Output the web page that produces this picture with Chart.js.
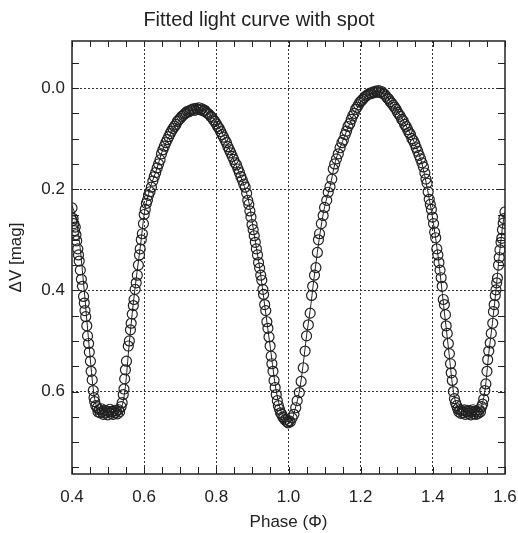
<!DOCTYPE html>
<html>
<head>
<meta charset="utf-8">
<script src="https://cdn.jsdelivr.net/npm/chart.js@4.4.1/dist/chart.umd.min.js"></script>
<style>
  body { margin: 0; background: #fff; }
  canvas { display: block; }
</style>
</head>
<body>
<canvas id="curvaLuz" width="518" height="533"></canvas>
<script>
// ticks
var xTicks = [0.4, 0.6, 0.8, 1.0, 1.2, 1.4, 1.6];
var yTicks = [0.0, 0.2, 0.4, 0.6];

// fitted model (spot)
var fitPhase = [0.400, 0.410, 0.420, 0.430, 0.440, 0.450, 0.458, 0.465, 0.475, 0.490, 0.510, 0.530, 0.540, 0.548, 0.558, 0.570, 0.580, 0.590, 0.600, 0.610,
  0.620, 0.635, 0.650, 0.670, 0.690, 0.710, 0.730, 0.750, 0.770, 0.790, 0.810, 0.830, 0.850, 0.870, 0.890, 0.905, 0.920, 0.935, 0.950, 0.965,
  0.980, 0.990, 1.000, 1.010, 1.020, 1.030, 1.040, 1.050, 1.060, 1.070, 1.080, 1.090, 1.100, 1.115, 1.130, 1.150, 1.170, 1.190, 1.210, 1.230,
  1.250, 1.270, 1.290, 1.310, 1.330, 1.350, 1.370, 1.385, 1.400, 1.415, 1.430, 1.445, 1.455, 1.465, 1.480, 1.500, 1.520, 1.535, 1.545, 1.555,
  1.565, 1.575, 1.585, 1.595, 1.600];
var fitMag = [0.232, 0.255, 0.300, 0.370, 0.450, 0.530, 0.590, 0.622, 0.634, 0.638, 0.640, 0.637, 0.625, 0.590, 0.510, 0.425, 0.365, 0.310, 0.250, 0.215,
  0.190, 0.160, 0.125, 0.095, 0.070, 0.055, 0.045, 0.042, 0.046, 0.058, 0.080, 0.110, 0.145, 0.180, 0.225, 0.290, 0.355, 0.435, 0.515, 0.595,
  0.640, 0.655, 0.660, 0.655, 0.630, 0.600, 0.550, 0.490, 0.440, 0.380, 0.325, 0.275, 0.235, 0.195, 0.145, 0.105, 0.070, 0.040, 0.020, 0.010,
  0.007, 0.015, 0.033, 0.055, 0.080, 0.110, 0.150, 0.200, 0.260, 0.335, 0.430, 0.525, 0.590, 0.625, 0.636, 0.640, 0.640, 0.628, 0.595, 0.525,
  0.465, 0.400, 0.325, 0.265, 0.245];

// observed points
var obsPhase = [
  0.400, 0.401, 0.403, 0.405, 0.407, 0.409, 0.411, 0.413, 0.416, 0.418, 0.420, 0.423, 0.426, 0.429, 0.432, 0.434, 0.436, 0.438, 0.441, 0.443,
  0.446, 0.448, 0.451, 0.453, 0.456, 0.459, 0.461, 0.463,
  0.466, 0.470, 0.472, 0.475, 0.478, 0.481, 0.484, 0.487, 0.490, 0.493, 0.496, 0.499, 0.502, 0.505, 0.508, 0.511, 0.514, 0.517, 0.520, 0.523,
  0.526, 0.529, 0.532, 0.536, 0.539,
  0.542, 0.544, 0.546, 0.548, 0.551, 0.556, 0.559, 0.562, 0.564, 0.567, 0.570, 0.572, 0.575, 0.578, 0.581, 0.584, 0.587, 0.589, 0.592, 0.595,
  0.598, 0.600, 0.603, 0.606, 0.609, 0.612, 0.616, 0.620,
  0.624, 0.628, 0.632, 0.636, 0.640, 0.644, 0.648, 0.652, 0.656, 0.660, 0.664, 0.668, 0.672, 0.676, 0.680, 0.684, 0.688, 0.692, 0.696, 0.700,
  0.704, 0.708, 0.712, 0.716, 0.720, 0.724, 0.728, 0.732, 0.736, 0.740, 0.744, 0.748, 0.752, 0.756, 0.760, 0.764, 0.768, 0.772, 0.776, 0.780,
  0.784, 0.788, 0.792, 0.796, 0.800, 0.804, 0.808, 0.812, 0.816, 0.820, 0.824, 0.828, 0.832, 0.836, 0.840, 0.844, 0.848, 0.852, 0.856, 0.860,
  0.864, 0.868, 0.872, 0.876, 0.880,
  0.884, 0.887, 0.890, 0.893, 0.896, 0.899, 0.902, 0.905, 0.908, 0.911, 0.914, 0.917, 0.920, 0.923, 0.926, 0.929, 0.931, 0.934, 0.937, 0.940,
  0.943, 0.946, 0.949, 0.952, 0.954, 0.957, 0.960, 0.963, 0.966, 0.969, 0.972, 0.975, 0.978, 0.981, 0.984, 0.987, 0.990, 0.993, 0.996, 0.999,
  1.002, 1.005,
  1.010, 1.015, 1.020, 1.024, 1.030, 1.035, 1.041, 1.046, 1.050, 1.055, 1.060, 1.064, 1.067, 1.072, 1.076, 1.080, 1.083, 1.086, 1.091, 1.096,
  1.100, 1.106, 1.110, 1.115, 1.120, 1.124, 1.128, 1.133, 1.138, 1.143, 1.148, 1.152, 1.157, 1.161, 1.165, 1.170, 1.174, 1.178, 1.182, 1.186,
  1.190, 1.194, 1.198, 1.202, 1.206, 1.210, 1.214, 1.218, 1.222, 1.226, 1.230, 1.234, 1.238, 1.242, 1.246, 1.250, 1.254, 1.258, 1.262, 1.266,
  1.270,
  1.274, 1.278, 1.282, 1.286, 1.290, 1.294, 1.298, 1.302, 1.306, 1.310, 1.314, 1.318, 1.322, 1.326, 1.330, 1.334, 1.338, 1.342, 1.346, 1.350,
  1.354, 1.358, 1.362, 1.366, 1.370, 1.374, 1.378, 1.381, 1.384, 1.387, 1.390, 1.393, 1.396, 1.399, 1.402, 1.405, 1.408, 1.411, 1.414, 1.417,
  1.420, 1.423, 1.426, 1.429, 1.432, 1.435, 1.437, 1.440, 1.443, 1.446, 1.449, 1.451, 1.454, 1.457, 1.460, 1.463,
  1.466, 1.469, 1.472, 1.475, 1.478, 1.481, 1.484, 1.487, 1.490, 1.493, 1.496, 1.499, 1.502, 1.505, 1.508, 1.511, 1.514, 1.517, 1.520, 1.523,
  1.526, 1.529, 1.532, 1.535, 1.538,
  1.541, 1.544, 1.547, 1.550, 1.552, 1.555, 1.559, 1.562, 1.566, 1.568, 1.570, 1.573, 1.575, 1.577, 1.579, 1.582, 1.584, 1.586, 1.589, 1.591,
  1.593, 1.595, 1.597, 1.600];
var obsMag = [
  0.237, 0.262, 0.258, 0.268, 0.282, 0.275, 0.290, 0.302, 0.318, 0.330, 0.342, 0.360, 0.378, 0.392, 0.412, 0.425, 0.440, 0.452, 0.470, 0.490,
  0.505, 0.522, 0.540, 0.560, 0.577, 0.598, 0.612, 0.620,
  0.628, 0.632, 0.640, 0.636, 0.642, 0.634, 0.640, 0.645, 0.637, 0.642, 0.638, 0.646, 0.640, 0.635, 0.643, 0.639, 0.645, 0.637, 0.642, 0.638,
  0.644, 0.636, 0.640, 0.630, 0.622,
  0.606, 0.595, 0.575, 0.557, 0.540, 0.510, 0.500, 0.478, 0.465, 0.447, 0.430, 0.418, 0.398, 0.385, 0.370, 0.350, 0.330, 0.318, 0.300, 0.288,
  0.268, 0.250, 0.240, 0.228, 0.222, 0.212, 0.205, 0.196,
  0.184, 0.175, 0.167, 0.158, 0.150, 0.142, 0.130, 0.122, 0.115, 0.108, 0.102, 0.096, 0.090, 0.085, 0.080, 0.076, 0.072, 0.066, 0.063, 0.060,
  0.056, 0.054, 0.051, 0.049, 0.046, 0.047, 0.044, 0.043, 0.041, 0.044, 0.040, 0.042, 0.039, 0.043, 0.041, 0.045, 0.044, 0.048, 0.050, 0.052,
  0.056, 0.058, 0.063, 0.066, 0.071, 0.076, 0.080, 0.086, 0.092, 0.097, 0.103, 0.108, 0.116, 0.122, 0.128, 0.135, 0.141, 0.148, 0.152, 0.160,
  0.167, 0.175, 0.182, 0.190, 0.196,
  0.208, 0.222, 0.230, 0.243, 0.255, 0.270, 0.280, 0.292, 0.305, 0.318, 0.330, 0.345, 0.356, 0.370, 0.380, 0.398, 0.408, 0.428, 0.440, 0.462,
  0.475, 0.492, 0.510, 0.530, 0.545, 0.560, 0.578, 0.592, 0.606, 0.618, 0.628, 0.635, 0.642, 0.645, 0.650, 0.652, 0.656, 0.655, 0.660, 0.662,
  0.658, 0.660,
  0.652, 0.645, 0.632, 0.618, 0.602, 0.580, 0.553, 0.520, 0.490, 0.468, 0.445, 0.410, 0.392, 0.370, 0.355, 0.325, 0.300, 0.288, 0.268, 0.252,
  0.236, 0.222, 0.206, 0.195, 0.180, 0.160, 0.150, 0.140, 0.130, 0.118, 0.108, 0.103, 0.092, 0.085, 0.076, 0.070, 0.062, 0.055, 0.050, 0.042,
  0.038, 0.033, 0.028, 0.025, 0.022, 0.019, 0.016, 0.014, 0.012, 0.010, 0.011, 0.008, 0.009, 0.006, 0.008, 0.005, 0.009, 0.007, 0.011, 0.012,
  0.016,
  0.020, 0.022, 0.027, 0.030, 0.034, 0.038, 0.042, 0.048, 0.052, 0.056, 0.062, 0.065, 0.072, 0.076, 0.082, 0.088, 0.092, 0.100, 0.104, 0.110,
  0.118, 0.125, 0.133, 0.140, 0.148, 0.156, 0.168, 0.180, 0.188, 0.205, 0.220, 0.230, 0.240, 0.255, 0.268, 0.285, 0.296, 0.318, 0.330, 0.345,
  0.360, 0.375, 0.392, 0.418, 0.428, 0.448, 0.470, 0.485, 0.505, 0.525, 0.545, 0.563, 0.578, 0.600, 0.614, 0.622,
  0.628, 0.634, 0.640, 0.636, 0.643, 0.638, 0.642, 0.636, 0.645, 0.640, 0.637, 0.643, 0.638, 0.646, 0.640, 0.636, 0.644, 0.639, 0.645, 0.640,
  0.643, 0.636, 0.640, 0.630, 0.625,
  0.615, 0.598, 0.585, 0.560, 0.537, 0.520, 0.504, 0.485, 0.465, 0.442, 0.428, 0.410, 0.399, 0.385, 0.376, 0.350, 0.335, 0.320, 0.305, 0.297,
  0.280, 0.267, 0.258, 0.245];

var tinta = '#222';
var fuente = "'Liberation Sans', 'DejaVu Sans', sans-serif";

// marco y marcas menores hacia dentro, como en IDL
var marcoPlugin = {
  id: 'marco',
  afterDraw: function(chart) {
    var c = chart.ctx, a = chart.chartArea;
    var sx = chart.scales.x, sy = chart.scales.y;
    c.save();
    c.strokeStyle = tinta;
    c.lineWidth = 1;
    c.beginPath();
    for (var v = 0.40; v <= 1.601; v += 0.05) {
      var px = Math.round(sx.getPixelForValue(v)) + 0.5;
      c.moveTo(px, a.top); c.lineTo(px, a.top + 6);
      c.moveTo(px, a.bottom); c.lineTo(px, a.bottom - 7);
    }
    for (var w = -0.05; w <= 0.751; w += 0.05) {
      var py = Math.round(sy.getPixelForValue(w)) + 0.5;
      c.moveTo(a.left, py); c.lineTo(a.left + 7, py);
      c.moveTo(a.right, py); c.lineTo(a.right - 7, py);
    }
    c.stroke();
    c.lineWidth = 1.5;
    c.strokeRect(a.left, a.top, a.right - a.left, a.bottom - a.top);
    c.restore();
  }
};

var puntos = obsPhase.map(function(p, i) { return {x: p, y: obsMag[i]}; });
var ajuste = fitPhase.map(function(p, i) { return {x: p, y: fitMag[i]}; });

var ctx = document.getElementById('curvaLuz').getContext('2d');
var grafico = new Chart(ctx, {
  type: 'scatter',
  data: {
    datasets: [{
      label: 'ajuste',
      data: ajuste,
      showLine: true,
      borderColor: tinta,
      borderWidth: 1,
      pointRadius: 0,
      cubicInterpolationMode: 'monotone',
      order: 2
    }, {
      label: 'observado',
      data: puntos,
      pointStyle: 'circle',
      pointRadius: 5,
      pointBorderWidth: 1.2,
      pointBorderColor: tinta,
      pointBackgroundColor: 'rgba(0,0,0,0)',
      order: 1
    }]
  },
  options: {
    responsive: false,
    animation: false,
    layout: { padding: { left: 0, right: 0, top: 0, bottom: 0 } },
    plugins: {
      legend: { display: false },
      tooltip: { enabled: false },
      title: {
        display: true,
        text: 'Fitted light curve with spot',
        color: tinta,
        font: { family: fuente, size: 20, weight: 'normal' },
        padding: { top: 8, bottom: 9 }
      }
    },
    scales: {
      x: {
        type: 'linear',
        min: 0.4,
        max: 1.6,
        afterBuildTicks: function(s) { s.ticks = xTicks.map(function(v) { return {value: v}; }); },
        afterFit: function(s) { s.height = 59; s.paddingRight = 13; },
        border: { display: false, dash: [2, 2] },
        grid: {
          drawTicks: false,
          lineWidth: 1,
          color: function(c) { return (c.tick && (c.tick.value <= 0.41 || c.tick.value >= 1.59)) ? 'rgba(0,0,0,0)' : '#333'; }
        },
        ticks: {
          color: tinta,
          padding: 13,
          maxRotation: 0,
          font: { family: fuente, size: 17 },
          callback: function(v) { return Number(v).toFixed(1); }
        },
        title: {
          display: true,
          text: 'Phase (Φ)',
          color: tinta,
          font: { family: fuente, size: 17 },
          padding: { top: 0, bottom: 0 }
        }
      },
      y: {
        type: 'linear',
        reverse: true,
        min: -0.093,
        max: 0.763,
        afterBuildTicks: function(s) { s.ticks = yTicks.map(function(v) { return {value: v}; }); },
        afterFit: function(s) { s.width = 72; },
        border: { display: false, dash: [2, 2] },
        grid: { drawTicks: false, lineWidth: 1, color: '#333' },
        ticks: {
          color: tinta,
          padding: 7,
          font: { family: fuente, size: 17 },
          callback: function(v) { return Number(v).toFixed(1); }
        },
        title: {
          display: true,
          text: 'ΔV [mag]',
          color: tinta,
          font: { family: fuente, size: 17 },
          padding: { top: 6, bottom: 0 }
        }
      }
    }
  },
  plugins: [marcoPlugin]
});
</script>
</body>
</html>
